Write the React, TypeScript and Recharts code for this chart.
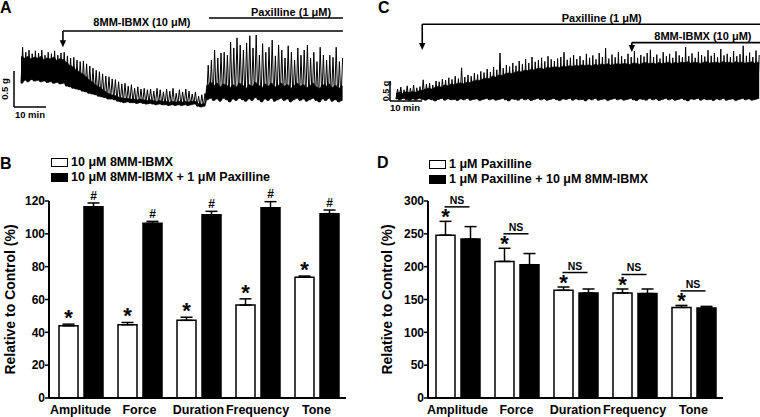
import React from 'react';
import {
  Area, Bar, BarChart, ComposedChart, ErrorBar, Label, LabelList, Legend, Line,
  ReferenceDot, ReferenceLine, XAxis, YAxis,
} from 'recharts';

const FONT = '"Liberation Sans", Arial, Helvetica, sans-serif';

// Panel A trace: tension (g above baseline), one contraction per minute
const peaksA = [
  0.83, 0.76, 0.79, 0.74, 0.78, 0.75, 0.79, 0.72, 0.76, 0.74,
  0.78, 0.72, 0.75, 0.76, 0.71, 0.68, 0.69, 0.65, 0.63, 0.64,
  0.60, 0.57, 0.54, 0.51, 0.49, 0.46, 0.43, 0.42, 0.39, 0.38,
  0.35, 0.32, 0.33, 0.29, 0.31, 0.26, 0.28, 0.25, 0.26, 0.24,
  0.25, 0.22, 0.26, 0.24, 0.21, 0.25, 0.22, 0.26, 0.19, 0.24,
  0.21, 0.25, 0.22, 0.18, 0.21, 0.15, 0.17, 0.19, 0.58, 0.65,
  0.79, 0.68, 0.75, 0.76, 0.72, 0.90, 0.82, 0.96, 0.86, 0.79,
  0.89, 0.99, 0.82, 1.00, 0.72, 0.88, 0.76, 0.83, 0.93, 0.71,
  0.86, 0.79, 0.68, 0.85, 0.76, 0.65, 0.82, 0.72, 0.79, 0.86,
  0.68, 0.76, 0.63, 0.83, 0.72, 0.65, 0.72, 0.69, 0.83, 0.63,
  0.68,
];
const bodyA = [
  0.70, 0.68, 0.70, 0.67, 0.69, 0.68, 0.70, 0.66, 0.68, 0.67,
  0.69, 0.65, 0.67, 0.66, 0.62, 0.58, 0.56, 0.52, 0.49, 0.46,
  0.42, 0.38, 0.35, 0.31, 0.28, 0.25, 0.22, 0.19, 0.17, 0.16,
  0.14, 0.13, 0.12, 0.12, 0.11, 0.11, 0.10, 0.11, 0.10, 0.09,
  0.10, 0.09, 0.08, 0.09, 0.08, 0.08, 0.07, 0.08, 0.07, 0.08,
  0.07, 0.08, 0.07, 0.08, 0.08, 0.05, 0.04, 0.05, 0.30, 0.34,
  0.30, 0.33, 0.28, 0.32, 0.30, 0.27, 0.31, 0.28, 0.33, 0.30,
  0.26, 0.31, 0.29, 0.34, 0.30, 0.27, 0.32, 0.29, 0.33, 0.28,
  0.30, 0.33, 0.29, 0.31, 0.26, 0.30, 0.33, 0.29, 0.31, 0.27,
  0.30, 0.33, 0.28, 0.26, 0.31, 0.29, 0.32, 0.27, 0.30, 0.26,
  0.29,
];
const troughsA = [
  0.33, 0.37, 0.35, 0.38, 0.36, 0.37, 0.35, 0.36, 0.34, 0.35,
  0.33, 0.34, 0.32, 0.33, 0.29, 0.28, 0.26, 0.25, 0.24, 0.22,
  0.21, 0.19, 0.18, 0.17, 0.15, 0.14, 0.13, 0.11, 0.11, 0.10,
  0.08, 0.07, 0.06, 0.07, 0.06, 0.06, 0.05, 0.06, 0.05, 0.04,
  0.05, 0.04, 0.03, 0.04, 0.03, 0.03, 0.02, 0.03, 0.02, 0.03,
  0.02, 0.03, 0.02, 0.03, 0.04, 0.01, 0.00, 0.01, 0.10, 0.12,
  0.09, 0.11, 0.08, 0.12, 0.10, 0.07, 0.11, 0.09, 0.12, 0.10,
  0.08, 0.11, 0.09, 0.13, 0.10, 0.07, 0.11, 0.09, 0.12, 0.08,
  0.10, 0.12, 0.09, 0.11, 0.07, 0.10, 0.12, 0.09, 0.11, 0.08,
  0.10, 0.12, 0.09, 0.07, 0.11, 0.09, 0.12, 0.08, 0.10, 0.07,
  0.09,
];

// Panel C trace
const peaksC = [
  0.30, 0.35, 0.28, 0.38, 0.32, 0.40, 0.33, 0.36, 0.53, 0.42,
  0.45, 0.40, 0.50, 0.48, 0.55, 0.52, 0.58, 0.54, 0.62, 0.56,
  0.83, 0.60, 0.65, 0.62, 0.70, 0.66, 0.74, 0.71, 0.80, 0.72,
  0.85, 0.78, 1.20, 0.82, 0.90, 0.86, 0.95, 0.88, 1.00, 0.92,
  1.05, 0.95, 1.10, 0.98, 1.02, 1.08, 0.99, 1.12, 1.04, 1.00,
  1.06, 1.10, 1.22, 1.03, 1.08, 1.15, 1.05, 1.12, 1.02, 1.18,
  1.08, 1.14, 1.04, 1.20, 1.10, 1.32, 1.06, 1.16, 1.09, 1.22,
  1.12, 1.05, 1.18, 1.10, 1.25, 1.08, 1.15, 1.11, 1.20, 1.28,
  1.10, 1.16, 1.06, 1.22, 1.12, 1.18, 1.08, 1.24, 1.14, 1.10,
  1.35, 1.12, 1.19, 1.08, 1.23, 1.15, 1.11, 1.27, 1.13, 1.20,
  1.09, 1.30, 1.14, 1.18, 1.10, 1.25, 1.12, 1.17, 1.38, 1.13,
  1.21, 1.10, 1.26, 1.15,
];
const bodyC = [
  0.20, 0.22, 0.19, 0.23, 0.21, 0.24, 0.22, 0.25, 0.27, 0.30,
  0.32, 0.30, 0.34, 0.36, 0.35, 0.40, 0.38, 0.42, 0.41, 0.44,
  0.45, 0.43, 0.47, 0.46, 0.50, 0.52, 0.51, 0.55, 0.57, 0.56,
  0.62, 0.60, 0.65, 0.64, 0.68, 0.70, 0.69, 0.72, 0.74, 0.73,
  0.77, 0.76, 0.79, 0.78, 0.81, 0.82, 0.80, 0.84, 0.83, 0.85,
  0.85, 0.84, 0.87, 0.86, 0.88, 0.87, 0.89, 0.88, 0.90, 0.89,
  0.90, 0.88, 0.91, 0.90, 0.92, 0.91, 0.93, 0.90, 0.92, 0.93,
  0.92, 0.94, 0.93, 0.91, 0.95, 0.94, 0.92, 0.95, 0.96, 0.94,
  0.95, 0.93, 0.96, 0.94, 0.95, 0.97, 0.94, 0.96, 0.95, 0.97,
  0.96, 0.98, 0.95, 0.97, 0.96, 0.94, 0.97, 0.98, 0.95, 0.96,
  0.97, 0.95, 0.98, 0.96, 0.97, 0.95, 0.98, 0.96, 0.97, 0.95,
  0.96, 0.98, 0.95, 0.97,
];
const troughsC = [
  0.05, 0.03, 0.06, 0.04, 0.02, 0.05, 0.03, 0.06, 0.04, 0.02,
  0.05, 0.03, 0.00, 0.04, 0.06, 0.02, 0.05, 0.03, 0.04, 0.01,
  0.05, 0.03, 0.06, 0.02, 0.04, 0.05, 0.01, 0.04, 0.06, 0.03,
  0.05, 0.02, 0.04, 0.06, 0.03, 0.00, 0.05, 0.04, 0.02, 0.06,
  0.03, 0.05, 0.01, 0.04, 0.06, 0.03, 0.05, 0.02, 0.04, 0.06,
  0.03, 0.01, 0.05, 0.04, 0.06, 0.02, 0.05, 0.03, 0.04, 0.00,
  0.05, 0.03, 0.06, 0.02, 0.04, 0.05, 0.01, 0.04, 0.06, 0.03,
  0.05, 0.02, 0.04, 0.06, 0.03, 0.01, 0.05, 0.04, 0.02, 0.06,
  0.03, 0.05, 0.01, 0.04, 0.06, 0.03, 0.05, 0.02, 0.04, 0.06,
  0.03, 0.00, 0.05, 0.04, 0.06, 0.02, 0.05, 0.03, 0.04, 0.01,
  0.05, 0.03, 0.06, 0.02, 0.04, 0.05, 0.01, 0.04, 0.06, 0.03,
  0.05, 0.02, 0.04, 0.06,
];

// drug application times (min)
const ibmxOnA = 13.1;
const paxOnA = 58.75;
const paxOnC = 8.2;
const ibmxOnC = 73.7;

// Panels B and D
const categories = ['Amplitude', 'Force', 'Duration', 'Frequency', 'Tone'];
const ibmxMean = [44.0, 44.6, 47.3, 56.6, 73.6];
const ibmxSem = [1.0, 1.4, 1.9, 3.8, 0.7];
const ibmxPaxMean = [116.5, 106.4, 111.6, 115.9, 112.3];
const ibmxPaxSem = [2.3, 1.2, 2.1, 3.7, 2.2];
const paxMean = [248, 208, 164, 160, 138];
const paxSem = [21, 20, 5, 6, 3];
const paxIbmxMean = [242, 203, 160, 159, 137];
const paxIbmxSem = [19, 17, 6, 7, 2.5];
const ticksB = [0, 20, 40, 60, 80, 100, 120];
const ticksD = [0, 50, 100, 150, 200, 250, 300];

function traceData(peaks: number[], troughs: number[], body: number[]) {
  const out: any[] = [];
  peaks.forEach((p, i) => {
    out.push({ t: i, v: troughs[i], body: [troughs[i], body[i]] });
    out.push({ t: i + 0.5, v: p, body: [troughs[i], body[i]] });
  });
  return out;
}

const note = (value: string, size: number, angle = 0) => (
  <Label value={value} position="center" angle={angle} fill="#000" fontSize={size}
    fontWeight="bold" fontFamily={FONT} />
);

const ArrowDown = (p: any) => (
  <g>
    <line x1={p.x1} y1={p.y1} x2={p.x2} y2={p.y2 - 5} stroke="#000" strokeWidth={1.6} />
    <path d={`M${p.x2 - 3.2},${p.y2 - 7} L${p.x2 + 3.2},${p.y2 - 7} L${p.x2},${p.y2} Z`} fill="#000" />
  </g>
);

function Trace({ data, width, height, xDomain, yDomain, children }: any) {
  return (
    <ComposedChart width={width} height={height} data={data} style={{ overflow: 'visible' }}
      margin={{ top: 0, right: 0, bottom: 0, left: 0 }}>
      <XAxis type="number" dataKey="t" domain={xDomain} hide allowDataOverflow />
      <YAxis type="number" domain={yDomain} hide allowDataOverflow />
      <Area dataKey="body" type="linear" stroke="#000" strokeWidth={0.6} fill="#000"
        fillOpacity={1} dot={false} activeDot={false} isAnimationActive={false} />
      <Line dataKey="v" type="linear" stroke="#000" strokeWidth={1} dot={false}
        activeDot={false} isAnimationActive={false} />
      {children}
    </ComposedChart>
  );
}

function markAbove(symbol: string, means: number[], errs: number[], size: number, lift: number) {
  return (props: any) => {
    const vb = props.viewBox || props;
    const top = Math.min(vb.y, vb.y + vb.height);
    const h = Math.abs(vb.height);
    const i = props.index ?? means.indexOf(props.value);
    const unit = h / means[i];
    const errTop = top - errs[i] * unit;
    return (
      <text x={vb.x + vb.width / 2} y={errTop + lift} textAnchor="middle" fontFamily={FONT}
        fontWeight="bold" fontSize={size} fill="#000">{symbol}</text>
    );
  };
}

function nsMark(wMean: number[], wErr: number[], bMean: number[], bErr: number[], gap: number) {
  return (props: any) => {
    const vb = props.viewBox || props;
    const top = Math.min(vb.y, vb.y + vb.height);
    const h = Math.abs(vb.height);
    const i = props.index ?? bMean.indexOf(props.value);
    const unit = h / bMean[i];
    const base = top + h;
    const hi = Math.min(base - (wMean[i] + wErr[i]) * unit, top - bErr[i] * unit);
    const ly = hi - 14.5;
    const x1 = vb.x - gap - vb.width / 2 - 1;
    const x2 = vb.x + vb.width / 2 - 1;
    return (
      <g>
        <line x1={x1} y1={ly} x2={x2} y2={ly} stroke="#000" strokeWidth={1.5} />
        <text x={(x1 + x2) / 2} y={ly - 3} textAnchor="middle" fontFamily={FONT}
          fontWeight="bold" fontSize={10.5} fill="#000">NS</text>
      </g>
    );
  };
}

const legendBox = (names: string[], fills: string[], rowH: number) => () => (
  <div style={{ fontFamily: FONT, fontWeight: 'bold', fontSize: 12.5, lineHeight: `${rowH}px`, color: '#000' }}>
    {names.map((n, i) => (
      <div key={n} style={{ display: 'flex', alignItems: 'center', whiteSpace: 'nowrap' }}>
        <span style={{ display: 'inline-block', width: 17, height: 9, boxSizing: 'border-box',
          border: '1.5px solid #000', background: fills[i], marginRight: 3 }} />
        <span>{n}</span>
      </div>
    ))}
  </div>
);

const yTitle = (dx: number) => (props: any) => {
  const vb = props.viewBox;
  const cx = vb.x + dx;
  const cy = vb.y + vb.height / 2;
  return (
    <text x={cx} y={cy} transform={`rotate(-90 ${cx} ${cy})`} textAnchor="middle"
      dominantBaseline="central" fontFamily={FONT} fontWeight="bold" fontSize={14} fill="#000">
      Relative to Control (%)
    </text>
  );
};

function Bars({ wMean, wSem, bMean, bSem, names, yMax, ticks, axisW, marginRight, padLeft,
  titleDx, legendTop, legendLeft, rowH, starLift, mode }: any) {
  const data = categories.map((c, i) => ({
    name: c, w: wMean[i], wErr: [0, wSem[i]], b: bMean[i], bErr: [0, bSem[i]],
  }));
  const tickStyle = { fill: '#000', fontSize: 12, fontWeight: 'bold', fontFamily: FONT };
  return (
    <BarChart width={380} height={277} data={data} barGap={6}
      margin={{ top: 61, right: marginRight, bottom: 0, left: 0 }}>
      <XAxis dataKey="name" tickLine={false} axisLine={{ stroke: '#000', strokeWidth: 2 }}
        tick={{ ...tickStyle, fontSize: 12.5 }} interval={0} height={19} tickSize={6} tickMargin={1}
        padding={{ left: padLeft, right: 0 }} />
      <YAxis domain={[0, yMax]} ticks={ticks} interval={0} width={axisW} tickSize={4} tickMargin={0}
        axisLine={{ stroke: '#000', strokeWidth: 2 }} tickLine={{ stroke: '#000', strokeWidth: 1.5 }}
        tick={tickStyle}>
        <Label content={yTitle(titleDx)} />
      </YAxis>
      <Legend layout="horizontal" verticalAlign="middle" align="center"
        wrapperStyle={{ top: legendTop, left: legendLeft, width: 'auto' }}
        content={legendBox(names, ['#fff', '#000'], rowH)} />
      <Bar dataKey="w" name={names[0]} fill="#fff" stroke="#000" strokeWidth={1.5} barSize={19}
        isAnimationActive={false}>
        <ErrorBar dataKey="wErr" width={6} stroke="#000" strokeWidth={1.5} direction="y" />
        <LabelList dataKey="w" content={markAbove('*', wMean, wSem, 22, starLift)} />
      </Bar>
      <Bar dataKey="b" name={names[1]} fill="#000" stroke="#000" strokeWidth={1.5} barSize={19}
        isAnimationActive={false}>
        <ErrorBar dataKey="bErr" width={6} stroke="#000" strokeWidth={1.5} direction="y" />
        <LabelList dataKey="b" content={mode === 'hash'
          ? markAbove('#', bMean, bSem, 12, -3.4)
          : nsMark(wMean, wSem, bMean, bSem, 6)} />
      </Bar>
    </BarChart>
  );
}

const letter = (ch: string, left: number, top: number) => (
  <div style={{ position: 'absolute', left, top, fontFamily: FONT, fontWeight: 'bold',
    fontSize: 16, lineHeight: '18px', color: '#000' }}>{ch}</div>
);

export default function App() {
  const dataA = traceData(peaksA, troughsA, bodyA);
  const dataC = traceData(peaksC, troughsC, bodyC);
  const line = { stroke: '#000', strokeWidth: 1.6, ifOverflow: 'visible' as const };
  return (
    <div style={{ position: 'absolute', left: 0, top: 0, width: 760, height: 417,
      background: '#fff', overflow: 'hidden', fontFamily: FONT }}>
      <div style={{ position: 'absolute', left: 0, top: 0 }}>
        <Trace data={dataA} width={350} height={125} xDomain={[-6.5625, 102.8125]} yDomain={[-0.25, 1.4861]}>
          <ReferenceLine {...line} segment={[{ x: ibmxOnA, y: 1.056 }, { x: 100.6, y: 1.056 }]} />
          <ReferenceLine {...line} segment={[{ x: ibmxOnA, y: 1.056 }, { x: ibmxOnA, y: 0.83 }]} shape={ArrowDown} />
          <ReferenceLine {...line} segment={[{ x: paxOnA, y: 1.236 }, { x: 100.6, y: 1.236 }]} />
          <ReferenceDot x={37.8} y={1.18} r={0} fill="none" stroke="none" ifOverflow="visible"
            label={note('8MM-IBMX (10 \u03bcM)', 11)} />
          <ReferenceDot x={84.4} y={1.32} r={0} fill="none" stroke="none" ifOverflow="visible"
            label={note('Paxilline (1 \u03bcM)', 11)} />
          <ReferenceLine {...line} strokeWidth={1.5} segment={[{ x: -2.19, y: 0 }, { x: -2.19, y: 0.5 }]} />
          <ReferenceLine {...line} strokeWidth={1.5} segment={[{ x: -2.19, y: 0 }, { x: 7.81, y: 0 }]} />
          <ReferenceDot x={-5} y={0.25} r={0} fill="none" stroke="none" ifOverflow="visible"
            label={note('0.5 g', 9.5, -90)} />
          <ReferenceDot x={2.8} y={-0.1} r={0} fill="none" stroke="none" ifOverflow="visible"
            label={note('10 min', 9.5)} />
        </Trace>
      </div>
      <div style={{ position: 'absolute', left: 380, top: 0 }}>
        <Trace data={dataC} width={380} height={125} xDomain={[-5, 113.75]} yDomain={[-0.6, 2.525]}>
          <ReferenceLine {...line} segment={[{ x: paxOnC, y: 1.92 }, { x: 113.75, y: 1.92 }]} />
          <ReferenceLine {...line} segment={[{ x: paxOnC, y: 1.92 }, { x: paxOnC, y: 1.275 }]} shape={ArrowDown} />
          <ReferenceLine {...line} segment={[{ x: ibmxOnC, y: 1.46 }, { x: 113.75, y: 1.46 }]} />
          <ReferenceLine {...line} segment={[{ x: ibmxOnC, y: 1.46 }, { x: ibmxOnC, y: 1.225 }]} shape={ArrowDown} />
          <ReferenceDot x={64.3} y={2.075} r={0} fill="none" stroke="none" ifOverflow="visible"
            label={note('Paxilline (1 \u03bcM)', 11)} />
          <ReferenceDot x={95.9} y={1.625} r={0} fill="none" stroke="none" ifOverflow="visible"
            label={note('8MM-IBMX (10 \u03bcM)', 11)} />
          <ReferenceLine {...line} strokeWidth={1.5} segment={[{ x: -1.875, y: 0 }, { x: -1.875, y: 0.5 }]} />
          <ReferenceLine {...line} strokeWidth={1.5} segment={[{ x: -1.875, y: 0 }, { x: 8.125, y: 0 }]} />
          <ReferenceDot x={-3.2} y={0.25} r={0} fill="none" stroke="none" ifOverflow="visible"
            label={note('0.5 g', 9, -90)} />
          <ReferenceDot x={2.8} y={-0.175} r={0} fill="none" stroke="none" ifOverflow="visible"
            label={note('10 min', 9.5)} />
        </Trace>
      </div>
      <div style={{ position: 'absolute', left: 0, top: 140 }}>
        <Bars wMean={ibmxMean} wSem={ibmxSem} bMean={ibmxPaxMean} bSem={ibmxPaxSem}
          names={['10 \u03bcM 8MM-IBMX', '10 \u03bcM 8MM-IBMX + 1 \u03bcM Paxilline']}
          yMax={120} ticks={ticksB} axisW={49} marginRight={34} padLeft={2} titleDx={9.5}
          legendTop={15} legendLeft={51} rowH={15} starLift={1} mode="hash" />
      </div>
      <div style={{ position: 'absolute', left: 380, top: 140 }}>
        <Bars wMean={paxMean} wSem={paxSem} bMean={paxIbmxMean} bSem={paxIbmxSem}
          names={['1 \u03bcM Paxilline', '1 \u03bcM Paxilline + 10 \u03bcM 8MM-IBMX']}
          yMax={300} ticks={ticksD} axisW={48} marginRight={37} padLeft={0} titleDx={6.5}
          legendTop={16.5} legendLeft={49} rowH={15.5} starLift={3} mode="ns" />
      </div>
      {letter('A', 0, -1)}
      {letter('B', 0, 155)}
      {letter('C', 378, -1)}
      {letter('D', 377, 154)}
    </div>
  );
}
